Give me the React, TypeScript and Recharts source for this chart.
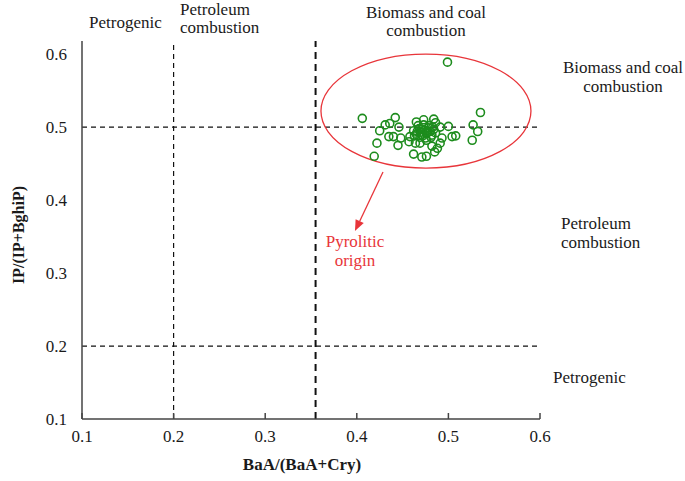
import React from 'react';
import {
  ScatterChart, Scatter, XAxis, YAxis, ReferenceLine, ReferenceDot, Customized,
} from 'recharts';

// BaA/(BaA+Cry) ratio per sample
const baaRatio = [
  0.499, 0.406, 0.535, 0.527, 0.532, 0.526, 0.508, 0.504, 0.500, 0.491,
  0.493, 0.491, 0.488, 0.485, 0.476, 0.471, 0.462, 0.422, 0.419, 0.425,
  0.431, 0.436, 0.442, 0.446, 0.435, 0.440, 0.448, 0.445, 0.458, 0.457,
  0.464, 0.465, 0.473, 0.484, 0.486, 0.469, 0.476, 0.482,
  0.462, 0.465, 0.468, 0.470, 0.472, 0.474, 0.476, 0.478, 0.480, 0.482,
  0.467, 0.473, 0.479, 0.484, 0.486, 0.463, 0.469, 0.475, 0.481, 0.471,
  0.477, 0.466, 0.483, 0.470,
];

// IP/(IP+BghiP) ratio per sample
const ipRatio = [
  0.589, 0.512, 0.520, 0.503, 0.494, 0.482, 0.488, 0.487, 0.501, 0.500,
  0.485, 0.478, 0.471, 0.466, 0.460, 0.459, 0.463, 0.478, 0.460, 0.495,
  0.503, 0.505, 0.513, 0.500, 0.487, 0.487, 0.485, 0.475, 0.487, 0.480,
  0.478, 0.507, 0.510, 0.511, 0.506, 0.478, 0.482, 0.474,
  0.495, 0.490, 0.498, 0.493, 0.488, 0.496, 0.491, 0.499, 0.494, 0.489,
  0.502, 0.503, 0.502, 0.497, 0.492, 0.488, 0.486, 0.485, 0.486, 0.497,
  0.494, 0.494, 0.500, 0.490,
];

const xTicks = [0.1, 0.2, 0.3, 0.4, 0.5, 0.6];
const yTicks = [0.1, 0.2, 0.3, 0.4, 0.5, 0.6];

// diagnostic thresholds
const baaLines = [0.2, 0.355];
const ipLines = [0.2, 0.5];

const points = baaRatio.map((x, i) => ({ x, y: ipRatio[i] }));

const FONT = 'Liberation Serif';
const RED = '#e8353a';
const GREEN = '#1d8c1d';
const AXIS = '#444';

const Ring = (p: any) => (
  <circle cx={p.cx} cy={p.cy} r={4} fill="none" stroke={GREEN} strokeWidth={1.6} />
);

const Arrow = (p: any) => {
  const { x1, y1, x2, y2 } = p;
  const a = Math.atan2(y2 - y1, x2 - x1);
  const len = 11, half = 4.5;
  const bx = x2 - len * Math.cos(a), by = y2 - len * Math.sin(a);
  const head = `${x2},${y2} ${bx + half * Math.sin(a)},${by - half * Math.cos(a)} ${bx - half * Math.sin(a)},${by + half * Math.cos(a)}`;
  return (
    <g>
      <line x1={x1} y1={y1} x2={bx} y2={by} stroke={RED} strokeWidth={1.3} />
      <polygon points={head} fill={RED} />
    </g>
  );
};

const Notes = () => (
  <g style={{ fontFamily: FONT }} fontSize={17} fill="#1a1a1a">
    <text x={89} y={28}>Petrogenic</text>
    <text x={180} y={15}>Petroleum</text>
    <text x={180} y={33}>combustion</text>
    <text x={426} y={18} textAnchor="middle">Biomass and coal</text>
    <text x={426} y={36} textAnchor="middle">combustion</text>
    <text x={623} y={73} textAnchor="middle">Biomass and coal</text>
    <text x={623} y={92} textAnchor="middle">combustion</text>
    <text x={561} y={229}>Petroleum</text>
    <text x={561} y={248}>combustion</text>
    <text x={553} y={383}>Petrogenic</text>
    <text x={355} y={247} textAnchor="middle" fill={RED}>Pyrolitic</text>
    <text x={355} y={266} textAnchor="middle" fill={RED}>origin</text>
    <text x={302} y={470} textAnchor="middle" fontWeight="bold">BaA/(BaA+Cry)</text>
    <text x={18} y={235} textAnchor="middle" fontWeight="bold" fontSize={16}
      transform="rotate(-90 18 235)" dy="0.35em">IP/(IP+BghiP)</text>
  </g>
);

export default function App() {
  return (
    <div style={{ position: 'absolute', left: 0, top: 0, background: '#fff', fontFamily: FONT }}>
      <ScatterChart width={685} height={481} margin={{ top: 41, right: 145, bottom: 32, left: 22 }}
        style={{ fontFamily: FONT }}>
        <XAxis
          type="number" dataKey="x" domain={[0.1, 0.6]} ticks={xTicks} allowDataOverflow
          height={30} tickSize={-6} tickMargin={17}
          axisLine={{ stroke: AXIS, strokeWidth: 1.5 }} tickLine={{ stroke: AXIS, strokeWidth: 1.5 }}
          tick={{ fill: '#1a1a1a', fontSize: 17, fontFamily: FONT }}
        />
        <XAxis
          xAxisId="top" orientation="top" type="number" domain={[0.1, 0.6]} ticks={xTicks}
          allowDataOverflow height={0} tickSize={-6} tickFormatter={() => ''}
          axisLine={{ stroke: AXIS, strokeWidth: 1.5 }} tickLine={{ stroke: AXIS, strokeWidth: 1.5 }}
        />
        <YAxis
          type="number" dataKey="y" domain={[0.1, 0.618]} ticks={yTicks} allowDataOverflow
          width={60} tickSize={0} tickMargin={15} tickLine={false}
          axisLine={{ stroke: AXIS, strokeWidth: 1.5 }}
          tick={{ fill: '#1a1a1a', fontSize: 17, fontFamily: FONT }}
        />
        <YAxis
          yAxisId="right" orientation="right" type="number" domain={[0.1, 0.618]}
          allowDataOverflow width={0} tick={false} tickLine={false}
          axisLine={{ stroke: AXIS, strokeWidth: 1.5 }}
        />
        {ipLines.map((v) => (
          <ReferenceLine key={`h${v}`} y={v} stroke="#111" strokeWidth={1.2} strokeDasharray="5 4" />
        ))}
        {baaLines.map((v, i) => (
          <ReferenceLine key={`v${v}`} x={v} stroke="#111"
            strokeWidth={i === 1 ? 2 : 1.2} strokeDasharray={i === 1 ? '7 5' : '5 4'} />
        ))}
        <ReferenceDot
          x={0.4755} y={0.522} r={0}
          shape={(p: any) => (
            <ellipse cx={p.cx} cy={p.cy} rx={105} ry={57} fill="none" stroke={RED} strokeWidth={1.3} />
          )}
        />
        <ReferenceLine
          segment={[{ x: 0.4286, y: 0.4384 }, { x: 0.398, y: 0.3575 }]}
          shape={Arrow}
        />
        <Scatter data={points} shape={Ring} isAnimationActive={false} />
        <Customized component={Notes} />
      </ScatterChart>
    </div>
  );
}
